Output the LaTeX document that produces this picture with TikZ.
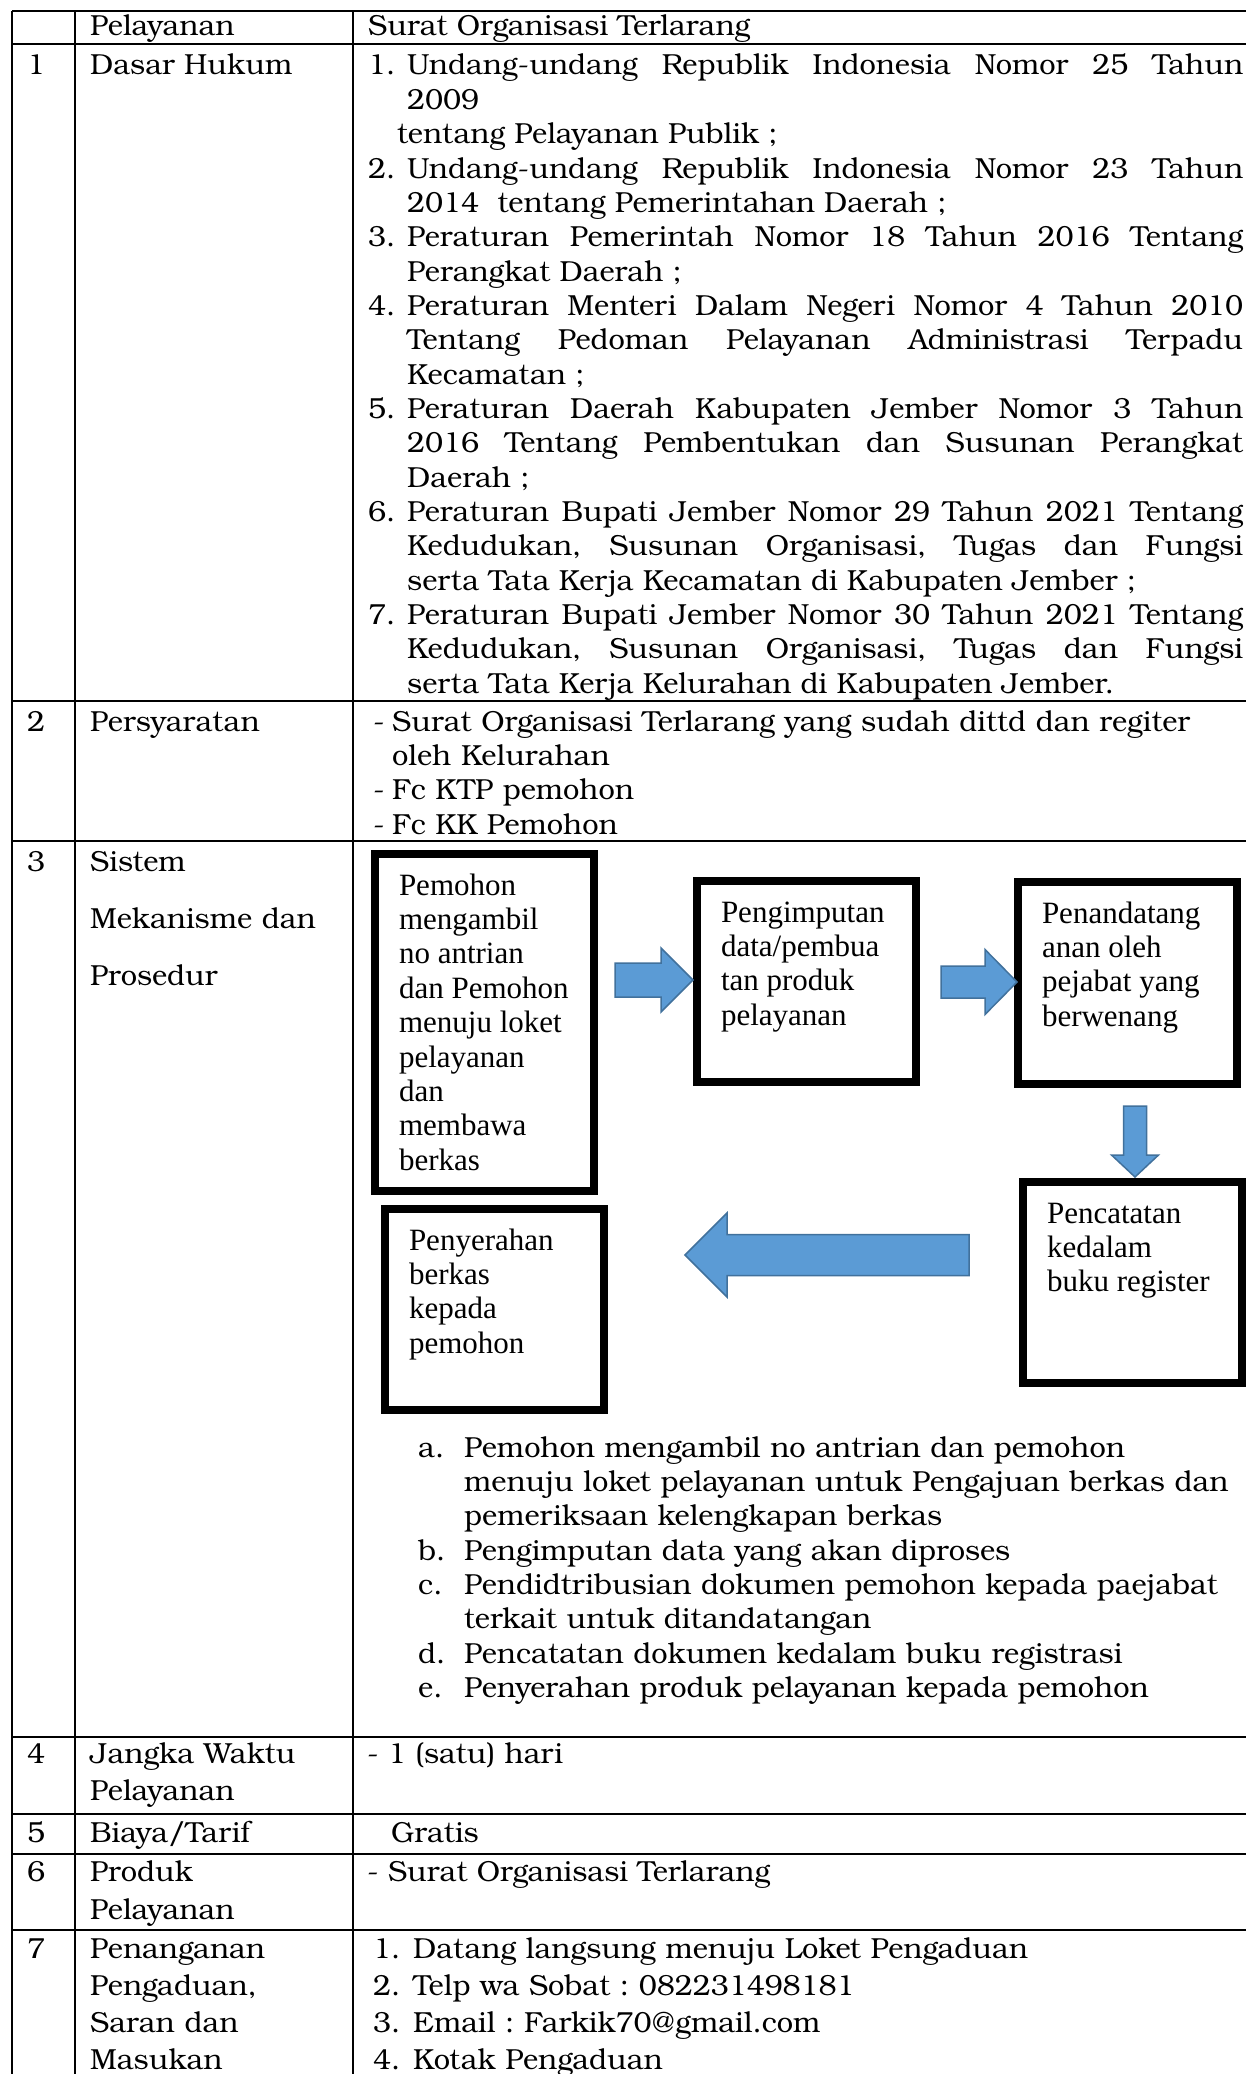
\documentclass[tikz,border=0pt]{standalone}
\usepackage{fontspec}
\setmainfont{TeX Gyre Bonum}
\newfontfamily\boxfont{Liberation Serif}
\usetikzlibrary{calc}
\definecolor{arrowfill}{RGB}{91,155,213}
\definecolor{arrowline}{RGB}{65,113,156}
\tolerance=10000 \hbadness=10000 \hyphenpenalty=10000 \exhyphenpenalty=10000
\frenchspacing
\newcommand{\itm}[3]{\hangindent=#1\hangafter=1\noindent\makebox[#1][l]{#2}#3\par}
\newcommand{\flowtext}[2]{\parbox[c][#1][t]{171pt}{\raggedright\rule{0pt}{41pt}#2}}

\begin{document}
\begin{tikzpicture}[x=1pt,y=-1pt,
  txt/.style={font=\fontsize{29}{34.35}\selectfont, inner sep=0pt, anchor=base west},
  rule/.style={line width=2.2pt},
  flowbox/.style={draw, line width=8pt, inner xsep=24pt, inner ysep=0pt, font=\boxfont\fontsize{31}{34.4}\selectfont},
  blockarrow/.style={fill=arrowfill, draw=arrowline, line width=1.5pt}]
\fill[white] (0,0) rectangle (1245,2074);
\useasboundingbox (0,0) rectangle (1245,2074);
\draw[rule] (12,11)--(1250,11);
\draw[rule] (12,44)--(1250,44);
\draw[rule] (12,701)--(1250,701);
\draw[rule] (12,841)--(1250,841);
\draw[rule] (12,1737)--(1250,1737);
\draw[rule] (12,1814)--(1250,1814);
\draw[rule] (12,1854)--(1250,1854);
\draw[rule] (12,1930)--(1250,1930);
\draw[rule] (12,11)--(12,2080);
\draw[rule] (75,11)--(75,2080);
\draw[rule] (353,11)--(353,2080);

\node[txt] (hpel) at (90,36) {Pelayanan};
\node[txt] (hsurat) at (368,36) {Surat Organisasi Terlarang};

\node[txt] (n1) at (27,75) {1};
\node[txt] (l1) at (90,75) {Dasar Hukum};
\node[txt, text width=875pt, align=justify] (c1) at (368,75) {%
\itm{39pt}{1.}{Undang-undang Republik Indonesia Nomor 25 Tahun\linebreak 2009}%
\hspace*{29pt}tentang Pelayanan Publik ;\par
\itm{39pt}{2.}{Undang-undang Republik Indonesia Nomor 23 Tahun\linebreak 2014\ \ tentang Pemerintahan Daerah ;}%
\itm{39pt}{3.}{Peraturan Pemerintah Nomor 18 Tahun 2016 Tentang\linebreak Perangkat Daerah ;}%
\itm{39pt}{4.}{Peraturan Menteri Dalam Negeri Nomor 4 Tahun 2010\linebreak Tentang Pedoman Pelayanan Administrasi Terpadu\linebreak Kecamatan ;}%
\itm{39pt}{5.}{Peraturan Daerah Kabupaten Jember Nomor 3 Tahun\linebreak 2016 Tentang Pembentukan dan Susunan Perangkat\linebreak Daerah ;}%
\itm{39pt}{6.}{Peraturan Bupati Jember Nomor 29 Tahun 2021 Tentang\linebreak Kedudukan, Susunan Organisasi, Tugas dan Fungsi\linebreak serta Tata Kerja Kecamatan di Kabupaten Jember ;}%
\itm{39pt}{7.}{Peraturan Bupati Jember Nomor 30 Tahun 2021 Tentang\linebreak Kedudukan, Susunan Organisasi, Tugas dan Fungsi\linebreak serta Tata Kerja Kelurahan di Kabupaten Jember.}};

\node[txt] (n2) at (27,731) {2};
\node[txt] (l2) at (90,731) {Persyaratan};
\node[txt, text width=870pt, align=left] (c2) at (373,731) {%
\itm{19pt}{-}{Surat Organisasi Terlarang yang sudah dittd dan regiter\newline oleh Kelurahan}%
\itm{19pt}{-}{Fc KTP pemohon}%
\itm{19pt}{-}{Fc KK Pemohon}};

\node[txt] (n3) at (27,871) {3};
\node[txt, text width=270pt, align=left, font=\fontsize{29}{57}\selectfont] (l3) at (90,871) {Sistem\\Mekanisme dan\\Prosedur};

\node[flowbox] (pemohon) at (484.5,1022.5) {\flowtext{337pt}{Pemohon\\mengambil\\no antrian\\dan Pemohon\\menuju loket\\pelayanan\\dan\\membawa\\berkas}};
\node[flowbox] (input) at (806.5,981.5) {\flowtext{201pt}{Pengimputan\\data/pembua\\tan produk\\pelayanan}};
\node[flowbox] (ttd) at (1127.5,983) {\flowtext{202pt}{Penandatang\\anan oleh\\pejabat yang\\berwenang}};
\node[flowbox] (catat) at (1132.5,1282.5) {\flowtext{201pt}{Pencatatan\\kedalam\\buku register}};
\node[flowbox] (serah) at (494.5,1309.5) {\flowtext{201pt}{Penyerahan\\berkas\\kepada\\pemohon}};

\coordinate (a1) at ($(pemohon.east |- input.west)+(17,-1.5)$);
\coordinate (a2) at ($(input.east |- ttd.west)+(21,-1)$);
\coordinate (a3) at ($(ttd.south)+(7.5,18)$);
\coordinate (a4) at ($(catat.west)+(-50,-27.5)$);
\draw[blockarrow] (a1) ++(0,-17) -- ++(46,0) -- ++(0,-15) -- ++(32,32) -- ++(-32,32) -- ++(0,-15) -- ++(-46,0) -- cycle;
\draw[blockarrow] (a2) ++(0,-16) -- ++(44,0) -- ++(0,-16.5) -- ++(32,32.5) -- ++(-32,32.5) -- ++(0,-16.5) -- ++(-44,0) -- cycle;
\draw[blockarrow] (a3) ++(-11.5,0) -- ++(0,49) -- ++(-12,0) -- ++(23.5,22) -- ++(23.5,-22) -- ++(-12,0) -- ++(0,-49) -- cycle;
\draw[blockarrow] (a4) ++(0,-20.5) -- ++(-242,0) -- ++(0,-21.5) -- ++(-42,42) -- ++(42,42) -- ++(0,-21.5) -- ++(242,0) -- cycle;

\node[txt, text width=830pt, align=left] (c3) at (418,1457) {%
\itm{46pt}{a.}{Pemohon mengambil no antrian dan pemohon\newline menuju loket pelayanan untuk Pengajuan berkas dan\newline pemeriksaan kelengkapan berkas}%
\itm{46pt}{b.}{Pengimputan data yang akan diproses}%
\itm{46pt}{c.}{Pendidtribusian dokumen pemohon kepada paejabat\newline terkait untuk ditandatangan}%
\itm{46pt}{d.}{Pencatatan dokumen kedalam buku registrasi}%
\itm{46pt}{e.}{Penyerahan produk pelayanan kepada pemohon}};

\node[txt] (n4) at (27,1763) {4};
\node[txt, text width=270pt, align=left, font=\fontsize{29}{37.5}\selectfont] (l4) at (90,1763) {Jangka Waktu\\Pelayanan};
\node[txt] (c4) at (367,1763) {- 1 (satu) hari};

\node[txt] (n5) at (27,1842) {5};
\node[txt] (l5) at (90,1842) {Biaya/Tarif};
\node[txt] (c5) at (391,1842) {Gratis};

\node[txt] (n6) at (27,1881) {6};
\node[txt, text width=270pt, align=left, font=\fontsize{29}{38}\selectfont] (l6) at (90,1881) {Produk\\Pelayanan};
\node[txt] (c6) at (367,1881) {- Surat Organisasi Terlarang};

\node[txt] (n7) at (27,1958) {7};
\node[txt, text width=270pt, align=left, font=\fontsize{29}{37}\selectfont] (l7) at (90,1958) {Penanganan\\Pengaduan,\\Saran dan\\Masukan};
\node[txt, text width=870pt, align=left, font=\fontsize{29}{37}\selectfont] (c7) at (373,1958) {%
\itm{40pt}{1.}{Datang langsung menuju Loket Pengaduan}%
\itm{40pt}{2.}{Telp wa Sobat : 082231498181}%
\itm{40pt}{3.}{Email : Farkik70@gmail.com}%
\itm{40pt}{4.}{Kotak Pengaduan}};
\end{tikzpicture}
\end{document}
